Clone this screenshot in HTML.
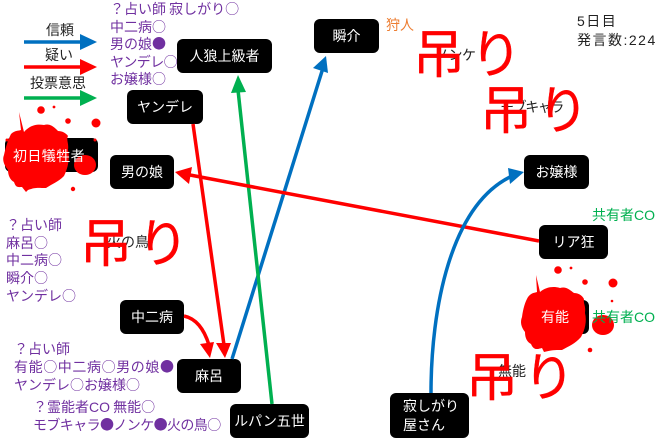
<!DOCTYPE html>
<html><head><meta charset="utf-8"><style>
html,body{margin:0;padding:0;background:#fff}
#c{position:relative;width:660px;height:440px;overflow:hidden;background:#fff;font-family:"Liberation Sans","Noto Sans CJK JP",sans-serif;font-size:14px}
.n{position:absolute;background:#000;color:#fff;border-radius:6px;display:flex;align-items:center;justify-content:center;font-size:14px;line-height:19px;box-sizing:border-box;white-space:nowrap}
.t{position:absolute;white-space:nowrap;line-height:18px;font-size:14px}
.p{color:#7030a0;font-family:"Noto Sans CJK JP",sans-serif}
.p span{font-family:"Liberation Sans",sans-serif}
.p i{font-style:normal;letter-spacing:-.6px}
.b{color:#222}
.k{position:absolute;color:#f00;font-size:52px;line-height:56px;white-space:nowrap;letter-spacing:5px;font-family:"Noto Sans CJK JP",sans-serif;-webkit-text-stroke:.4px #f00}
svg{position:absolute;left:0;top:0}
</style></head><body><div id="c">
<div class="t b" style="left:46px;top:21px">信頼</div>
<div class="t b" style="left:45px;top:46px">疑い</div>
<div class="t b" style="left:30px;top:74px">投票意思</div>
<div class="t p" style="left:110px;top:1px;line-height:17.6px">？占い師 寂しがり○<br>中二病○<br>男の娘●<br><i>ヤンデレ○</i><br>お嬢様○</div>
<div class="t p" style="left:6px;top:217px;line-height:17.7px">？占い師<br>麻呂○<br>中二病○<br>瞬介○<br>ヤンデレ○</div>
<div class="t p" style="left:14px;top:340px;line-height:18px">？占い師<br><span style="letter-spacing:.6px;font-family:inherit">有能○中二病○男の娘●</span><br>ヤンデレ○お嬢様○</div>
<div class="t p" style="left:33px;top:398px;line-height:18px">？霊能者<span>CO</span> 無能○<br><i>モブキャラ●ノンケ●火の鳥○</i></div>
<div class="t" style="left:386px;top:16px;color:#ed7d31">狩人</div>
<div class="t b" style="left:577px;top:12px;line-height:19px;letter-spacing:1.5px">5日目<br>発言数:224</div>
<div class="t" style="left:592px;top:206px;color:#00b050">共有者CO</div>
<div class="t b" style="left:435px;top:46px;letter-spacing:-.5px">ノンケ</div>
<div class="t b" style="left:500px;top:98px;letter-spacing:-1.4px">モブキャラ</div>
<div class="t b" style="left:107px;top:233px">火の鳥</div>
<div class="t b" style="left:498px;top:362px">無能</div>

<div class="n" style="left:177px;top:39px;width:95px;height:34px">人狼上級者</div>
<div class="n" style="left:127px;top:90px;width:76px;height:34px">ヤンデレ</div>
<div class="n" style="left:5px;top:138px;width:93px;height:34px"></div>
<div class="n" style="left:110px;top:155px;width:64px;height:34px">男の娘</div>
<div class="n" style="left:120px;top:300px;width:64px;height:34px">中二病</div>
<div class="n" style="left:177px;top:359px;width:64px;height:34px">麻呂</div>
<div class="n" style="left:230px;top:404px;width:79px;height:34px">ルパン五世</div>
<div class="n" style="left:314px;top:19px;width:65px;height:34px">瞬介</div>
<div class="n" style="left:524px;top:155px;width:65px;height:34px">お嬢様</div>
<div class="n" style="left:539px;top:225px;width:69px;height:34px">リア狂</div>
<div class="n" style="left:525px;top:300px;width:64px;height:34px"></div>
<div class="n" style="left:390px;top:393px;width:79px;height:45px;justify-content:flex-start;padding-left:13px;text-align:left">寂しがり<br>屋さん</div>

<svg width="660" height="440" viewBox="0 0 660 440" fill="none">
<path d="M24 42H82" stroke="#0070c0" stroke-width="3.5"/><path d="M80 34L97 42L80 50Z" fill="#0070c0"/>
<path d="M24 67H82" stroke="#f00" stroke-width="3.5"/><path d="M80 59L97 67L80 75Z" fill="#f00"/>
<path d="M24 98H82" stroke="#00b050" stroke-width="3.5"/><path d="M80 90L97 98L80 106Z" fill="#00b050"/>

<path d="M193 124L224 345" stroke="#f00" stroke-width="3.5"/><path d="M216 343L231 343L225 358Z" fill="#f00"/>
<path d="M184 316C198 319 205 332 209 345" stroke="#f00" stroke-width="3.5"/><path d="M200 344L214 342L210 358Z" fill="#f00"/>
<path d="M232 359L323 68" stroke="#0070c0" stroke-width="3.5"/><path d="M313 68L328 73L326 56Z" fill="#0070c0"/>
<path d="M272 404L238 90" stroke="#00b050" stroke-width="3.5"/><path d="M231 93L246 92L238 75Z" fill="#00b050"/>
<path d="M539 241L190 175" stroke="#f00" stroke-width="3.5"/><path d="M192 167L189 184L175 172Z" fill="#f00"/>
<path d="M431 393C431 310 450 205 512 176" stroke="#0070c0" stroke-width="3.5"/><path d="M508 168L510 184L524 172Z" fill="#0070c0"/>

<g fill="#f00">
<path d="M19 112L24 132C30 125 37 124 44 125C50 123 54 127 58 131C62 131 66 133 68 136C66 140 69 143 68 150C70 158 68 168 64 176C58 182 52 184 46 188C38 188 36 187 28 190L26 192L22 187C18 187 16 188 14 182C10 180 8 175 8 170C4 165 2 160 4 155C6 146 8 140 11 134C15 130 19 131 21 130Z"/>
<circle cx="41" cy="110" r="3.8"/><circle cx="54" cy="107" r="1.4"/><circle cx="68" cy="121" r="2.8"/><circle cx="96" cy="123" r="4.5"/><circle cx="73" cy="189" r="2.2"/><ellipse cx="85" cy="165" rx="11" ry="10"/><circle cx="95" cy="140" r="1.5"/><circle cx="7" cy="140" r="1.5"/>
<path d="M536 275L540 292C546 287 553 286 560 288C566 286 570 290 574 293C578 293 582 295 584 299C583 303 586 306 585 313C587 321 585 330 581 337C575 344 569 346 562 350C554 350 552 350 544 352L542 348C538 349 534 351 531 344C527 342 525 338 525 332C521 327 520 322 522 317C523 309 525 302 528 297C532 292 535 293 537 292Z"/>
<circle cx="558" cy="270" r="3.8"/><circle cx="571" cy="268" r="1.4"/><circle cx="585" cy="282" r="2.8"/><circle cx="613" cy="283" r="4.5"/><circle cx="590" cy="350" r="2.3"/><ellipse cx="603" cy="325" rx="11" ry="10"/><circle cx="612" cy="301" r="1.3"/>
</g>
</svg>
<div class="t" style="left:592px;top:308px;color:#00b050">共有者CO</div>
<div class="t" style="left:13px;top:147px;color:#fff;letter-spacing:.4px">初日犠牲者</div>
<div class="t" style="left:541px;top:308px;color:#fff">有能</div>
<div class="k" style="left:413px;top:23px">吊り</div>
<div class="k" style="left:480px;top:79px">吊り</div>
<div class="k" style="left:80px;top:212px">吊り</div>
<div class="k" style="left:466px;top:346px">吊り</div>
</div></body></html>
